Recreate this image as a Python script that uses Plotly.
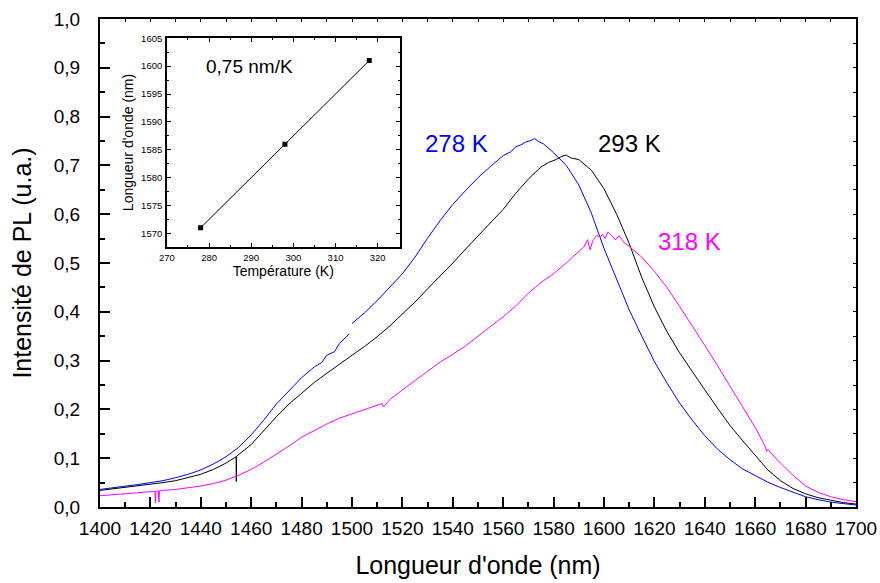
import plotly.graph_objects as go

# ---------------- data ----------------
wl_278 = [1400, 1405, 1410, 1415, 1420, 1425, 1430, 1435, 1440, 1445, 1450, 1455, 1460,
          1465, 1470, 1475, 1480, 1485, 1488, 1490, 1493, 1495, 1499, None, 1500, 1505,
          1510, 1515, 1520, 1525, 1530, 1535, 1540, 1545, 1550, 1555, 1560, 1563, 1565,
          1567, 1569, 1571, 1572.5, 1574, 1576, 1580, 1585, 1590, 1595, 1600, 1605, 1610,
          1615, 1620, 1625, 1630, 1635, 1640, 1645, 1650, 1655, 1660, 1665, 1670, 1675,
          1680, 1685, 1690, 1695, 1700]
pl_278 = [0.036, 0.039, 0.043, 0.046, 0.050, 0.054, 0.060, 0.067, 0.076, 0.088, 0.103, 0.122,
          0.148, 0.178, 0.211, 0.238, 0.265, 0.287, 0.296, 0.311, 0.318, 0.335, 0.355, None,
          0.376, 0.398, 0.423, 0.450, 0.478, 0.512, 0.551, 0.587, 0.620, 0.648, 0.675, 0.698,
          0.720, 0.728, 0.738, 0.742, 0.748, 0.751, 0.755, 0.749, 0.744, 0.726, 0.700, 0.660,
          0.602, 0.530, 0.466, 0.404, 0.350, 0.298, 0.254, 0.213, 0.178, 0.146, 0.119, 0.097,
          0.078, 0.064, 0.051, 0.040, 0.030, 0.021, 0.015, 0.010, 0.007, 0.004]

wl_293 = [1400, 1405, 1410, 1415, 1420, 1425, 1430, 1435, 1440, 1445, 1450, 1454.0, 1454.1,
          1454.2, 1460, 1465, 1470, 1475, 1480, 1485, 1490, 1495, 1500, 1505, 1510, 1515,
          1520, 1525, 1530, 1535, 1540, 1545, 1550, 1555, 1560, 1565, 1570, 1575, 1578,
          1581, 1583, 1585, 1587, 1590, 1595, 1600, 1605, 1610, 1615, 1620, 1625, 1630,
          1635, 1640, 1645, 1650, 1655, 1660, 1665, 1670, 1675, 1680, 1685, 1690, 1695, 1700]
pl_293 = [0.034, 0.037, 0.040, 0.043, 0.046, 0.050, 0.054, 0.060, 0.067, 0.077, 0.090, 0.103,
          0.052, 0.104, 0.128, 0.157, 0.185, 0.211, 0.233, 0.255, 0.274, 0.293, 0.311, 0.329,
          0.349, 0.371, 0.395, 0.420, 0.447, 0.473, 0.500, 0.528, 0.556, 0.583, 0.610, 0.643,
          0.672, 0.697, 0.706, 0.712, 0.718, 0.721, 0.715, 0.712, 0.690, 0.652, 0.600, 0.540,
          0.470, 0.410, 0.359, 0.316, 0.277, 0.240, 0.203, 0.167, 0.136, 0.105, 0.076, 0.054,
          0.038, 0.027, 0.019, 0.014, 0.009, 0.006]

wl_318 = [1400, 1405, 1410, 1415, 1420, 1421.8, 1422.0, 1422.2, 1423.2, 1423.4, 1423.6, 1425,
          1430, 1435, 1440, 1445, 1450, 1455, 1460, 1465, 1470, 1475, 1480, 1485, 1490, 1495,
          1500, 1505, 1510, 1512, 1512.5, 1515, 1520, 1525, 1530, 1535, 1540, 1545, 1550,
          1555, 1560, 1565, 1570, 1575, 1580, 1585, 1588, 1590, 1592, 1593.5, 1594.5, 1595.5,
          1597, 1598.5, 1599.5, 1600.5, 1601.5, 1603, 1604.5, 1606, 1608, 1610, 1615, 1620,
          1625, 1630, 1635, 1640, 1645, 1650, 1655, 1660, 1664, 1664.5, 1665, 1670, 1675,
          1680, 1685, 1690, 1695, 1700]
pl_318 = [0.023, 0.025, 0.027, 0.029, 0.031, 0.032, 0.008, 0.032, 0.033, 0.010, 0.033, 0.034,
          0.036, 0.039, 0.043, 0.048, 0.055, 0.065, 0.077, 0.092, 0.108, 0.125, 0.143, 0.157,
          0.170, 0.182, 0.191, 0.199, 0.208, 0.212, 0.205, 0.220, 0.240, 0.259, 0.278, 0.297,
          0.313, 0.330, 0.350, 0.370, 0.390, 0.412, 0.438, 0.460, 0.478, 0.500, 0.515, 0.524,
          0.533, 0.548, 0.527, 0.545, 0.556, 0.554, 0.558, 0.550, 0.563, 0.557, 0.547, 0.556,
          0.542, 0.534, 0.512, 0.483, 0.450, 0.411, 0.372, 0.331, 0.290, 0.247, 0.205, 0.163,
          0.124, 0.114, 0.118, 0.090, 0.065, 0.043, 0.030, 0.021, 0.015, 0.011]

inset_temp = [278, 298, 318]
inset_peak = [1571, 1586, 1601]

y_ticks = [0.0, 0.1, 0.2, 0.3, 0.4, 0.5, 0.6, 0.7, 0.8, 0.9, 1.0]
y_tick_text = ["0,0", "0,1", "0,2", "0,3", "0,4", "0,5", "0,6", "0,7", "0,8", "0,9", "1,0"]
x_ticks = list(range(1400, 1701, 20))

labels = ["278 K", "293 K", "318 K"]
colors = ["#0000FF", "#000000", "#FF00FF"]
label_pos = [(1541.5, 0.745), (1610, 0.745), (1634, 0.545)]

FONT = "Liberation Sans, Arial, sans-serif"

fig = go.Figure()
for wl, pl, c, name in [(wl_278, pl_278, colors[0], labels[0]),
                        (wl_293, pl_293, colors[1], labels[1]),
                        (wl_318, pl_318, colors[2], labels[2])]:
    fig.add_trace(go.Scatter(x=wl, y=pl, mode="lines", line=dict(color=c, width=1),
                             name=name, connectgaps=False, showlegend=False))

fig.add_trace(go.Scatter(x=inset_temp, y=inset_peak, mode="lines+markers",
                         line=dict(color="black", width=1),
                         marker=dict(symbol="square", size=5, color="black"),
                         xaxis="x2", yaxis="y2", showlegend=False))

# empty trace to carry the tiny mirror-tick axes
fig.add_trace(go.Scatter(x=[], y=[], xaxis="x3", yaxis="y3", showlegend=False))

for (xp, yp), txt, c in zip(label_pos, labels, colors):
    fig.add_annotation(x=xp, y=yp, text=txt, showarrow=False,
                       font=dict(family=FONT, size=24, color=c),
                       xanchor="center", yanchor="middle")

fig.add_annotation(x=289.5, y=1600, xref="x2", yref="y2", text="0,75 nm/K",
                   showarrow=False, font=dict(family=FONT, size=19, color="black"),
                   xanchor="center", yanchor="middle")

axis_common = dict(showgrid=False, zeroline=False, showline=True, linecolor="black",
                   ticks="inside", tickcolor="black", automargin=False)

fig.update_layout(
    width=880, height=583,
    margin=dict(l=100, r=24, t=19, b=76),
    paper_bgcolor="white", plot_bgcolor="white",
    font=dict(family=FONT, color="black"),
    xaxis=dict(**axis_common, range=[1400, 1700], linewidth=2,
               tickvals=x_ticks, ticklen=10, tickwidth=2,
               minor=dict(dtick=10, tick0=1400, ticklen=5, tickwidth=1.5, ticks="inside",
                          tickcolor="black"),
               tickfont=dict(size=19), ticklabelstandoff=3,
               title=dict(text="Longueur d'onde (nm)", font=dict(size=25), standoff=19),
               mirror=True),
    yaxis=dict(**axis_common, range=[0, 1.0], linewidth=2,
               tickvals=y_ticks, ticktext=y_tick_text, ticklen=10, tickwidth=2,
               minor=dict(dtick=0.05, tick0=0, ticklen=5, tickwidth=1.5, ticks="inside",
                          tickcolor="black"),
               tickfont=dict(size=19), ticklabelstandoff=14,
               title=dict(text="Intensité de PL (u.a.)", font=dict(size=25), standoff=15),
               mirror=True),
    xaxis3=dict(overlaying="x", side="top", range=[1400, 1700], dtick=10, tick0=1400,
                ticks="inside", ticklen=3, tickcolor="black", showticklabels=False,
                showgrid=False, zeroline=False, showline=False, anchor="y3"),
    yaxis3=dict(overlaying="y", side="right", range=[0, 1.0], dtick=0.05, tick0=0,
                ticks="inside", ticklen=3, tickcolor="black", showticklabels=False,
                showgrid=False, zeroline=False, showline=False, anchor="x3"),
    xaxis2=dict(**axis_common, domain=[0.0885, 0.3963], anchor="y2", range=[270, 325.2],
                linewidth=1.5, dtick=10, tick0=270, ticklen=4,
                minor=dict(dtick=5, tick0=270, ticklen=2, ticks="inside", tickcolor="black"),
                tickfont=dict(size=9.5), ticklabelstandoff=1,
                title=dict(text="Température (K)", font=dict(size=14), standoff=4),
                mirror="allticks"),
    yaxis2=dict(**axis_common, domain=[0.5334, 0.9605], anchor="x2", range=[1567.6, 1605],
                linewidth=1.5, dtick=5, tick0=1570, ticklen=4,
                minor=dict(dtick=2.5, tick0=1570, ticklen=2, ticks="inside", tickcolor="black"),
                tickfont=dict(size=9.5), ticklabelstandoff=1,
                title=dict(text="Longueur d'onde (nm)", font=dict(size=14), standoff=4),
                mirror="allticks"),
)

fig.write_html("out.html")
